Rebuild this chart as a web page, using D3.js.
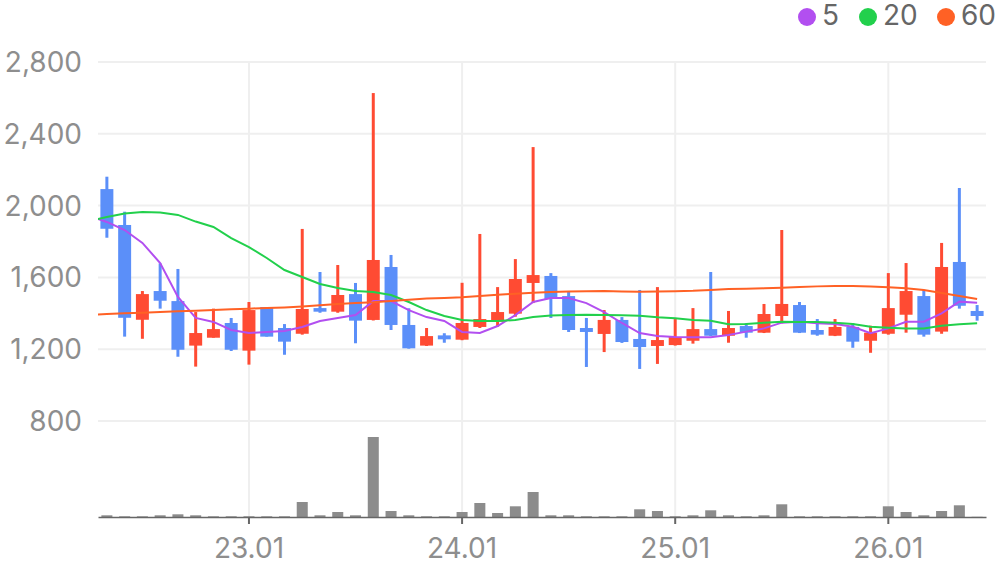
<!DOCTYPE html>
<html>
<head>
<meta charset="utf-8">
<script src="https://cdn.jsdelivr.net/npm/d3@7"></script>
<style>
  body { margin: 0; background: #fff; }
  #chart text { font-family: Inter, "Noto Sans", sans-serif; }
</style>
</head>
<body>
<div id="chart"></div>
<script>
// monthly candles 22.05 ~ 26.06
const months = [
  "22.05","22.06","22.07","22.08","22.09","22.10","22.11","22.12",
  "23.01","23.02","23.03","23.04","23.05","23.06","23.07","23.08","23.09","23.10","23.11","23.12",
  "24.01","24.02","24.03","24.04","24.05","24.06","24.07","24.08","24.09","24.10","24.11","24.12",
  "25.01","25.02","25.03","25.04","25.05","25.06","25.07","25.08","25.09","25.10","25.11","25.12",
  "26.01","26.02","26.03","26.04","26.05","26.06"
];
const openP  = [2092,1892,1364,1524,1468,1220,1264,1346,1192,1435,1318,1286,1429,1409,1507,1363,1658,1335,1220,1277,
                1253,1324,1353,1398,1569,1608,1496,1318,1285,1363,1257,1218,1223,1247,1312,1275,1329,1292,1385,1446,
                1307,1275,1324,1247,1286,1392,1496,1298,1686,1413];
const highP  = [2161,1966,1524,1678,1647,1407,1426,1374,1463,1435,1340,1870,1630,1669,1569,2627,1725,1428,1318,1289,
                1570,1842,1546,1702,2326,1624,1524,1374,1418,1379,1530,1546,1368,1429,1630,1413,1346,1452,1864,1463,
                1368,1368,1346,1331,1624,1680,1530,1792,2098,1446];
const lowP   = [1821,1270,1258,1426,1158,1103,1264,1190,1114,1270,1169,1281,1403,1403,1233,1360,1307,1203,1218,1236,
                1250,1318,1325,1381,1457,1374,1296,1101,1184,1235,1090,1118,1220,1231,1273,1236,1264,1290,1344,1290,
                1275,1273,1208,1180,1281,1292,1270,1286,1426,1359];
const closeP = [1871,1375,1507,1470,1197,1290,1312,1197,1418,1270,1242,1424,1409,1502,1359,1697,1335,1205,1273,1255,
                1346,1368,1407,1591,1613,1480,1307,1296,1363,1240,1212,1251,1268,1312,1275,1318,1292,1396,1452,1292,
                1281,1324,1242,1292,1429,1524,1281,1658,1442,1385];
const volume = [17,7,7,17,27,17,7,7,7,7,7,150,17,50,17,800,60,17,7,7,
                50,140,40,107,250,17,17,7,7,7,77,60,7,17,67,17,7,17,127,7,
                7,7,7,7,107,50,17,60,117,2];

// moving averages, first value is the month before 22.05 (clipped off)
const ma5  = [1942,1909,1864,1792,1680,1491,1374,1352,1307,1290,1296,1301,1324,1357,1374,1390,1468,1468,1418,1379,1357,
              1296,1290,1329,1390,1463,1485,1485,1457,1407,1346,1290,1274,1268,1266,1266,1279,1298,1316,1348,1353,
              1344,1340,1325,1289,1316,1353,1353,1400,1465,1459];
const ma20 = [1914,1936,1956,1964,1962,1948,1911,1881,1819,1769,1708,1641,1602,1563,1541,1524,1519,1502,1463,1418,1385,
              1363,1357,1357,1363,1379,1388,1390,1392,1390,1389,1387,1378,1372,1363,1359,1339,1340,1348,1353,1352,
              1352,1348,1340,1325,1320,1316,1316,1331,1339,1344];
const ma60 = [1392,1396,1400,1403,1407,1411,1414,1418,1422,1426,1430,1433,1438,1445,1452,1458,1462,1469,1476,1482,1485,
              1489,1496,1503,1509,1515,1518,1521,1523,1524,1522,1520,1521,1523,1525,1530,1535,1537,1539,1543,1546,
              1550,1552,1552,1549,1545,1539,1530,1513,1496,1480];

const priceTicks = [800, 1200, 1600, 2000, 2400, 2800];
const monthTicks = ["23.01", "24.01", "25.01", "26.01"];
const maNames = ["5", "20", "60"];
const maColors = ["#b24ff0", "#22d04c", "#ff6125"];

const W = 996, H = 567;
const plotL = 98, plotR = 986, plotT = 62, axisY = 517;

const svg = d3.select("#chart").append("svg")
    .attr("width", W)
    .attr("height", H);

const x = d3.scaleBand()
    .domain(months)
    .range([plotL, plotR])
    .paddingInner(0.27)
    .paddingOuter(0.135);

const y = d3.scaleLinear()
    .domain([800, 2800])
    .range([421, plotT]);

const yVol = d3.scaleLinear()
    .domain([0, d3.max(volume)])
    .range([axisY, 437]);

const cx = m => x(m) + x.bandwidth() / 2;

// grid
svg.append("g")
    .selectAll("line")
    .data(priceTicks)
    .join("line")
    .attr("x1", plotL).attr("x2", plotR)
    .attr("y1", d => y(d)).attr("y2", d => y(d))
    .attr("stroke", "#efefef")
    .attr("stroke-width", 2);

svg.append("g")
    .selectAll("line")
    .data(monthTicks)
    .join("line")
    .attr("x1", d => cx(d)).attr("x2", d => cx(d))
    .attr("y1", plotT - 1).attr("y2", axisY)
    .attr("stroke", "#efefef")
    .attr("stroke-width", 2);

// y labels
svg.append("g")
    .selectAll("text")
    .data(priceTicks)
    .join("text")
    .attr("x", 82)
    .attr("y", d => y(d))
    .attr("dy", "0.36em")
    .attr("text-anchor", "end")
    .attr("font-size", 28)
    .attr("fill", "#8e8e8e")
    .text(d => d3.format(",")(d));

// volume bars
const volW = x.bandwidth() * 0.85;
svg.append("g")
    .selectAll("rect")
    .data(months)
    .join("rect")
    .attr("x", d => cx(d) - volW / 2)
    .attr("width", volW)
    .attr("y", (d, i) => yVol(volume[i]))
    .attr("height", (d, i) => axisY - yVol(volume[i]))
    .attr("fill", "#8c8c8c");

// x axis
const xAxis = svg.append("g")
    .attr("transform", `translate(0,${axisY})`)
    .call(d3.axisBottom(x).tickValues(monthTicks).tickSize(7).tickSizeOuter(0).tickPadding(14));
xAxis.select(".domain").attr("stroke", "#666").attr("stroke-width", 1.5);
xAxis.selectAll(".tick line").attr("stroke", "#666").attr("stroke-width", 2);
xAxis.selectAll(".tick text")
    .attr("font-size", 28)
    .attr("font-family", "Inter, sans-serif")
    .attr("fill", "#8e8e8e");

// candles
const upColor = "#ff4b33", downColor = "#5b8ff9";
const candle = svg.append("g")
    .selectAll("g")
    .data(months)
    .join("g");

candle.append("line")
    .attr("x1", d => cx(d)).attr("x2", d => cx(d))
    .attr("y1", (d, i) => y(highP[i]))
    .attr("y2", (d, i) => y(lowP[i]))
    .attr("stroke", (d, i) => closeP[i] >= openP[i] ? upColor : downColor)
    .attr("stroke-width", 3);

candle.append("rect")
    .attr("x", d => x(d))
    .attr("width", x.bandwidth())
    .attr("y", (d, i) => y(Math.max(openP[i], closeP[i])))
    .attr("height", (d, i) => Math.max(2, Math.abs(y(openP[i]) - y(closeP[i]))))
    .attr("fill", (d, i) => closeP[i] >= openP[i] ? upColor : downColor);

// moving average lines (clipped to the plot)
svg.append("clipPath").attr("id", "plotClip")
    .append("rect")
    .attr("x", plotL).attr("y", 0)
    .attr("width", plotR - plotL).attr("height", axisY);

const maX = i => cx(months[0]) + (i - 1) * x.step();
const line = d3.line()
    .x((d, i) => maX(i))
    .y(d => y(d));

[ma5, ma20, ma60].forEach((s, k) => {
    svg.append("path")
        .datum(s)
        .attr("clip-path", "url(#plotClip)")
        .attr("fill", "none")
        .attr("stroke", maColors[k])
        .attr("stroke-width", 2)
        .attr("d", line);
});

// legend
const legendX = [807, 868, 946];
const legend = svg.append("g")
    .selectAll("g")
    .data(maNames)
    .join("g")
    .attr("transform", (d, i) => `translate(${legendX[i]},17)`);
legend.append("circle")
    .attr("r", 9)
    .attr("fill", (d, i) => maColors[i]);
legend.append("text")
    .attr("x", 15)
    .attr("y", 8)
    .attr("font-size", 28)
    .attr("fill", "#666")
    .text(d => d);
</script>
</body>
</html>
